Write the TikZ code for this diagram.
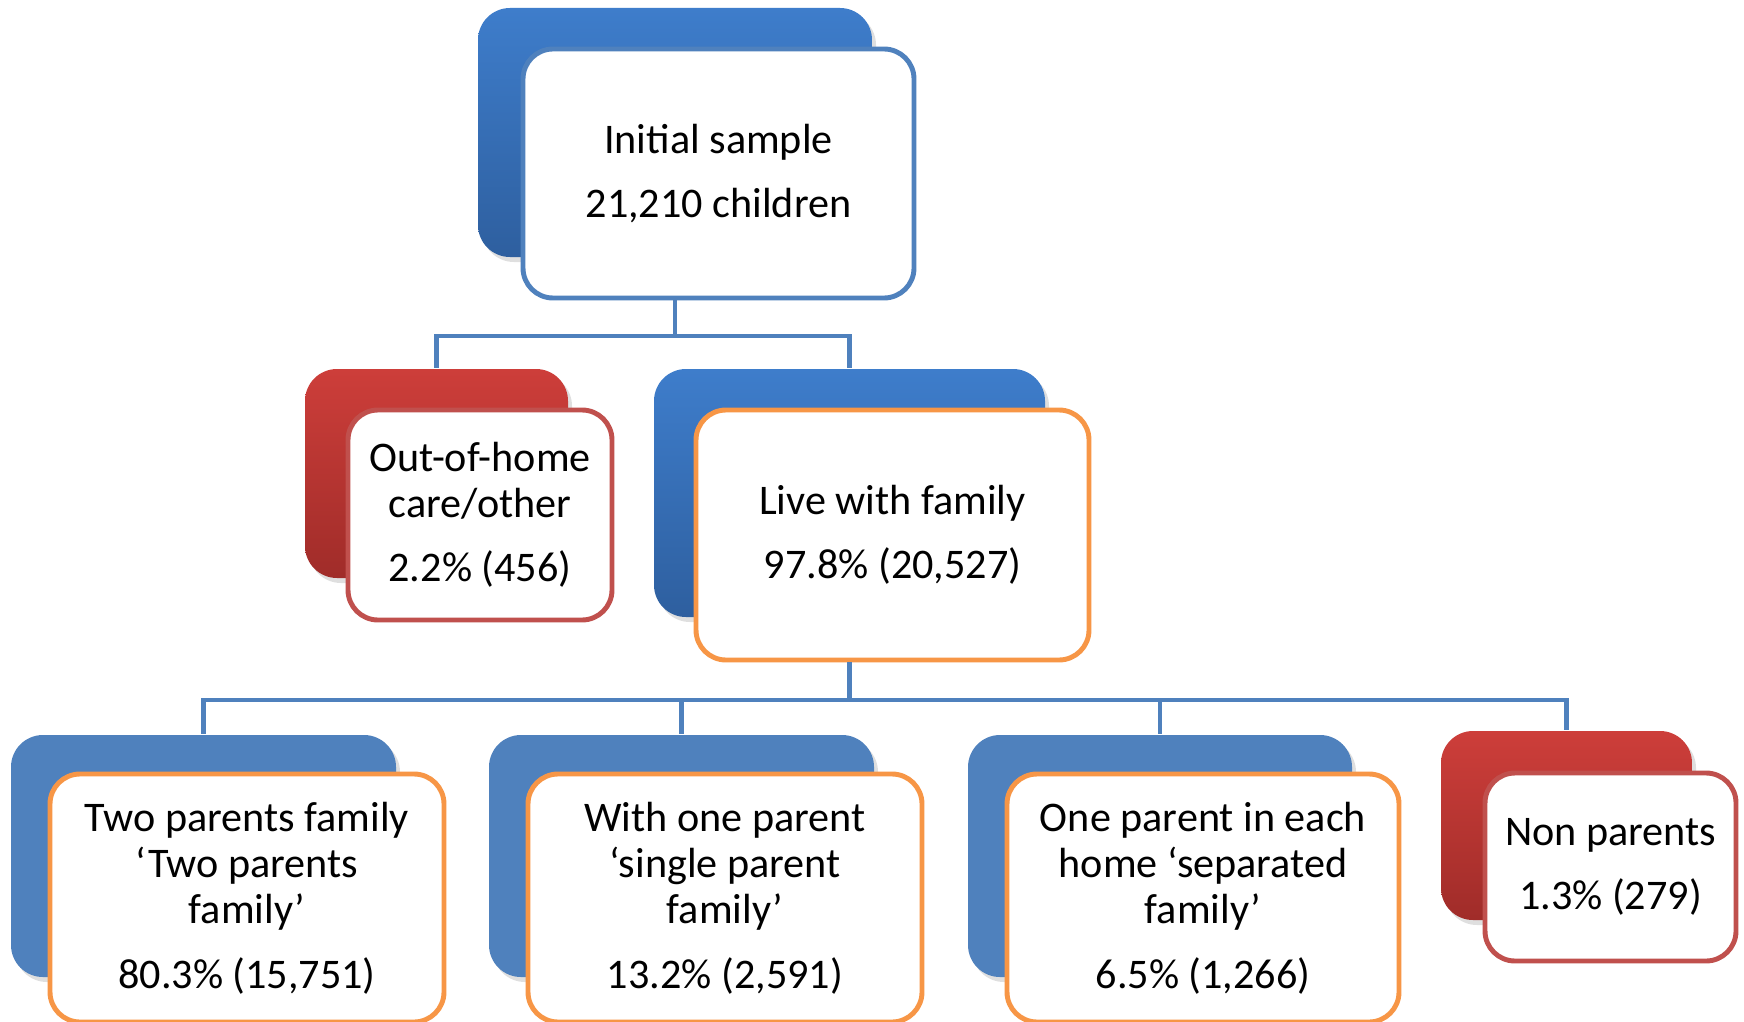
\documentclass[tikz,border=0pt]{standalone}
\usepackage{fontspec}
\setmainfont{Carlito}
\usetikzlibrary{shadows}

\definecolor{boxblue}{HTML}{4F81BD}
\definecolor{boxred}{HTML}{C0504D}
\definecolor{boxorange}{HTML}{F79646}
\definecolor{blueTop}{HTML}{3E7DCB}
\definecolor{blueBot}{HTML}{2E5F9F}
\definecolor{redTop}{HTML}{CD3E3A}
\definecolor{redBot}{HTML}{A02C29}

\tikzset{
  back/.style={rectangle, rounded corners=0.32cm, draw=none,
    drop shadow={opacity=0.25, shadow xshift=0.04cm, shadow yshift=-0.05cm}},
  backblue/.style={back, top color=blueTop, bottom color=blueBot},
  backflat/.style={back, fill=boxblue},
  backred/.style={back, top color=redTop, bottom color=redBot},
  front/.style={rectangle, rounded corners=0.3cm, fill=white, line width=1.4pt,
    align=center, font=\fontsize{12}{13.1}\selectfont},
  link/.style={draw=boxblue, line width=1.3pt},
}

\begin{document}
\begin{tikzpicture}
    \fill[white] (0,0) rectangle (17.44,10.21);
    \useasboundingbox (0,0) rectangle (17.44,10.21);

    %----------------------
    % INITIAL SAMPLE
    %----------------------
    \node[backblue, minimum width=3.94cm, minimum height=2.49cm] (topback) at (6.75,8.885) {};
    \node[front, draw=boxblue, minimum width=3.91cm, minimum height=2.49cm] (topfront) at (7.185,8.475)
        {Initial sample\\[5pt]21,210 children};

    %----------------------
    % SECOND ROW
    %----------------------
    % Out-of-home care
    \node[backred, minimum width=2.63cm, minimum height=2.09cm] (oohback) at (4.365,5.475) {};
    \node[front, draw=boxred, minimum width=2.64cm, minimum height=2.10cm] (oohfront) at (4.80,5.06)
        {Out-of-home\\care/other\\[5pt]2.2\% (456)};

    % Live with family
    \node[backblue, minimum width=3.91cm, minimum height=2.48cm] (lwfback) at (8.495,5.28) {};
    \node[front, draw=boxorange, minimum width=3.93cm, minimum height=2.50cm] (lwffront) at (8.925,4.86)
        {Live with family\\[5pt]97.8\% (20,527)};

    % Links from the initial sample
    \draw[link] (topfront.south -| topback.center) -- ++(0,-0.355) -| (oohback.north);
    \draw[link] (topfront.south -| topback.center) -- ++(0,-0.355) -| (lwfback.north);

    %----------------------
    % THIRD ROW
    %----------------------
    % Two parents
    \node[backflat, minimum width=3.85cm, minimum height=2.42cm] (twoback) at (2.035,1.65) {};
    \node[front, draw=boxorange, minimum width=3.94cm, minimum height=2.48cm] (twofront) at (2.47,1.23)
        {Two parents family\\‘Two parents\\family’\\[5.5pt]80.3\% (15,751)};

    % One parent
    \node[backflat, minimum width=3.85cm, minimum height=2.42cm] (oneback) at (6.815,1.65) {};
    \node[front, draw=boxorange, minimum width=3.94cm, minimum height=2.48cm] (onefront) at (7.25,1.23)
        {With one parent\\‘single parent\\family’\\[5.5pt]13.2\% (2,591)};

    % Separated
    \node[backflat, minimum width=3.84cm, minimum height=2.42cm] (sepback) at (11.60,1.65) {};
    \node[front, draw=boxorange, minimum width=3.92cm, minimum height=2.48cm] (sepfront) at (12.03,1.23)
        {One parent in each\\home ‘separated\\family’\\[5.5pt]6.5\% (1,266)};

    % Non parents
    \node[backred, minimum width=2.51cm, minimum height=1.89cm] (nonback) at (15.665,1.955) {};
    \node[front, draw=boxred, minimum width=2.51cm, minimum height=1.88cm] (nonfront) at (16.105,1.54)
        {Non parents\\[5pt]1.3\% (279)};

    % Links from live with family
    \foreach \n in {twoback, oneback, sepback, nonback}
        \draw[link] (lwffront.south -| lwfback.center) -- ++(0,-0.375) -| (\n.north);

\end{tikzpicture}
\end{document}
